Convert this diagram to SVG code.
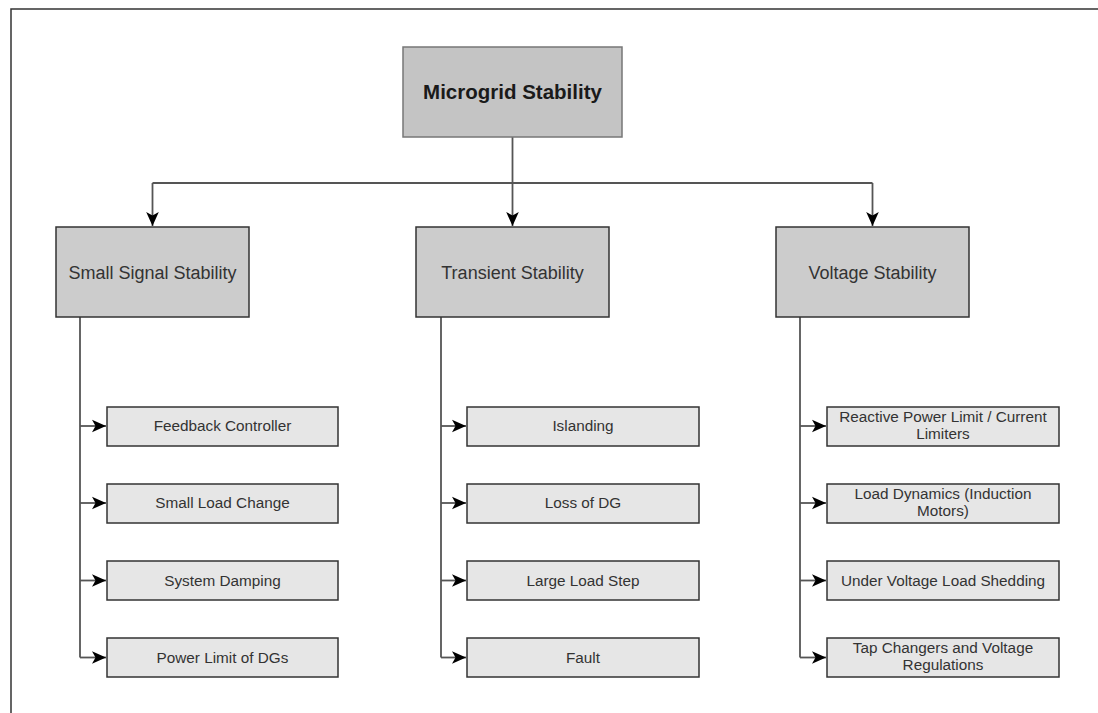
<svg xmlns="http://www.w3.org/2000/svg" width="1098" height="713" viewBox="0 0 1098 713">
<style>
.frame{fill:#ffffff;stroke:#333333;stroke-width:1.5}
.top{fill:#c4c4c4;stroke:#777777;stroke-width:1.5}
.mid{fill:#cccccc;stroke:#333333;stroke-width:1.5}
.leaf{fill:#e6e6e6;stroke:#333333;stroke-width:1.5}
.t{font-family:"Liberation Sans",Arial,sans-serif;fill:#333333;text-anchor:middle}
.tt{font-size:20.5px;font-weight:bold;fill:#1a1a1a}
.tm{font-size:18px}
.tl{font-size:15.3px}
.c{fill:none;stroke:#555555;stroke-width:1.8}
</style>
<defs>
<marker id="arr" markerUnits="userSpaceOnUse" markerWidth="14" markerHeight="14" viewBox="0 0 10 10" refX="10" refY="5" orient="auto">
<path d="M0,0.5 L10,5 L0,9.5 L2.5,5 z" fill="#000000"/>
</marker>
</defs>
<rect class="frame" x="11" y="9" width="1100" height="720"/>
<g id="connectors">
<path class="c" d="M512.5 137 V226" marker-end="url(#arr)"/>
<path class="c" d="M152.5 183 H872.5"/>
<path class="c" d="M152.5 183 V226" marker-end="url(#arr)"/>
<path class="c" d="M872.5 183 V226" marker-end="url(#arr)"/>
<path class="c" d="M80 317 V657.5"/>
<path class="c" d="M80 426 H106" marker-end="url(#arr)"/>
<path class="c" d="M80 503 H106" marker-end="url(#arr)"/>
<path class="c" d="M80 580.5 H106" marker-end="url(#arr)"/>
<path class="c" d="M80 657.5 H106" marker-end="url(#arr)"/>
<path class="c" d="M441 317 V657.5"/>
<path class="c" d="M441 426 H466" marker-end="url(#arr)"/>
<path class="c" d="M441 503 H466" marker-end="url(#arr)"/>
<path class="c" d="M441 580.5 H466" marker-end="url(#arr)"/>
<path class="c" d="M441 657.5 H466" marker-end="url(#arr)"/>
<path class="c" d="M800 317 V657.5"/>
<path class="c" d="M800 426 H826" marker-end="url(#arr)"/>
<path class="c" d="M800 503 H826" marker-end="url(#arr)"/>
<path class="c" d="M800 580.5 H826" marker-end="url(#arr)"/>
<path class="c" d="M800 657.5 H826" marker-end="url(#arr)"/>
</g>
<g id="root"><rect class="top" x="403" y="47" width="219" height="90"/><text class="t tt" x="512.5" y="99">Microgrid Stability</text></g>
<g id="small-signal"><rect class="mid" x="56" y="227" width="193" height="90"/><text class="t tm" x="152.5" y="278.5">Small Signal Stability</text></g>
<g id="transient"><rect class="mid" x="416" y="227" width="193" height="90"/><text class="t tm" x="512.5" y="278.5">Transient Stability</text></g>
<g id="voltage"><rect class="mid" x="776" y="227" width="193" height="90"/><text class="t tm" x="872.5" y="278.5">Voltage Stability</text></g>
<g id="feedback"><rect class="leaf" x="107" y="407" width="231" height="39"/><text class="t tl" x="222.5" y="431">Feedback Controller</text></g>
<g id="small-load"><rect class="leaf" x="107" y="484" width="231" height="39"/><text class="t tl" x="222.5" y="508">Small Load Change</text></g>
<g id="damping"><rect class="leaf" x="107" y="561" width="231" height="39"/><text class="t tl" x="222.5" y="585.5">System Damping</text></g>
<g id="power-limit"><rect class="leaf" x="107" y="638" width="231" height="39"/><text class="t tl" x="222.5" y="662.5">Power Limit of DGs</text></g>
<g id="islanding"><rect class="leaf" x="467" y="407" width="232" height="39"/><text class="t tl" x="583" y="431">Islanding</text></g>
<g id="loss-dg"><rect class="leaf" x="467" y="484" width="232" height="39"/><text class="t tl" x="583" y="508">Loss of DG</text></g>
<g id="large-load"><rect class="leaf" x="467" y="561" width="232" height="39"/><text class="t tl" x="583" y="585.5">Large Load Step</text></g>
<g id="fault"><rect class="leaf" x="467" y="638" width="232" height="39"/><text class="t tl" x="583" y="662.5">Fault</text></g>
<g id="reactive"><rect class="leaf" x="827" y="407" width="232" height="39"/><text class="t tl" x="943" y="421.5">Reactive Power Limit / Current</text><text class="t tl" x="943" y="439">Limiters</text></g>
<g id="load-dyn"><rect class="leaf" x="827" y="484" width="232" height="39"/><text class="t tl" x="943" y="498.5">Load Dynamics (Induction</text><text class="t tl" x="943" y="516">Motors)</text></g>
<g id="uvls"><rect class="leaf" x="827" y="561" width="232" height="39"/><text class="t tl" x="943" y="585.5">Under Voltage Load Shedding</text></g>
<g id="tap"><rect class="leaf" x="827" y="638" width="232" height="39"/><text class="t tl" x="943" y="652.5">Tap Changers and Voltage</text><text class="t tl" x="943" y="670">Regulations</text></g>
</svg>
